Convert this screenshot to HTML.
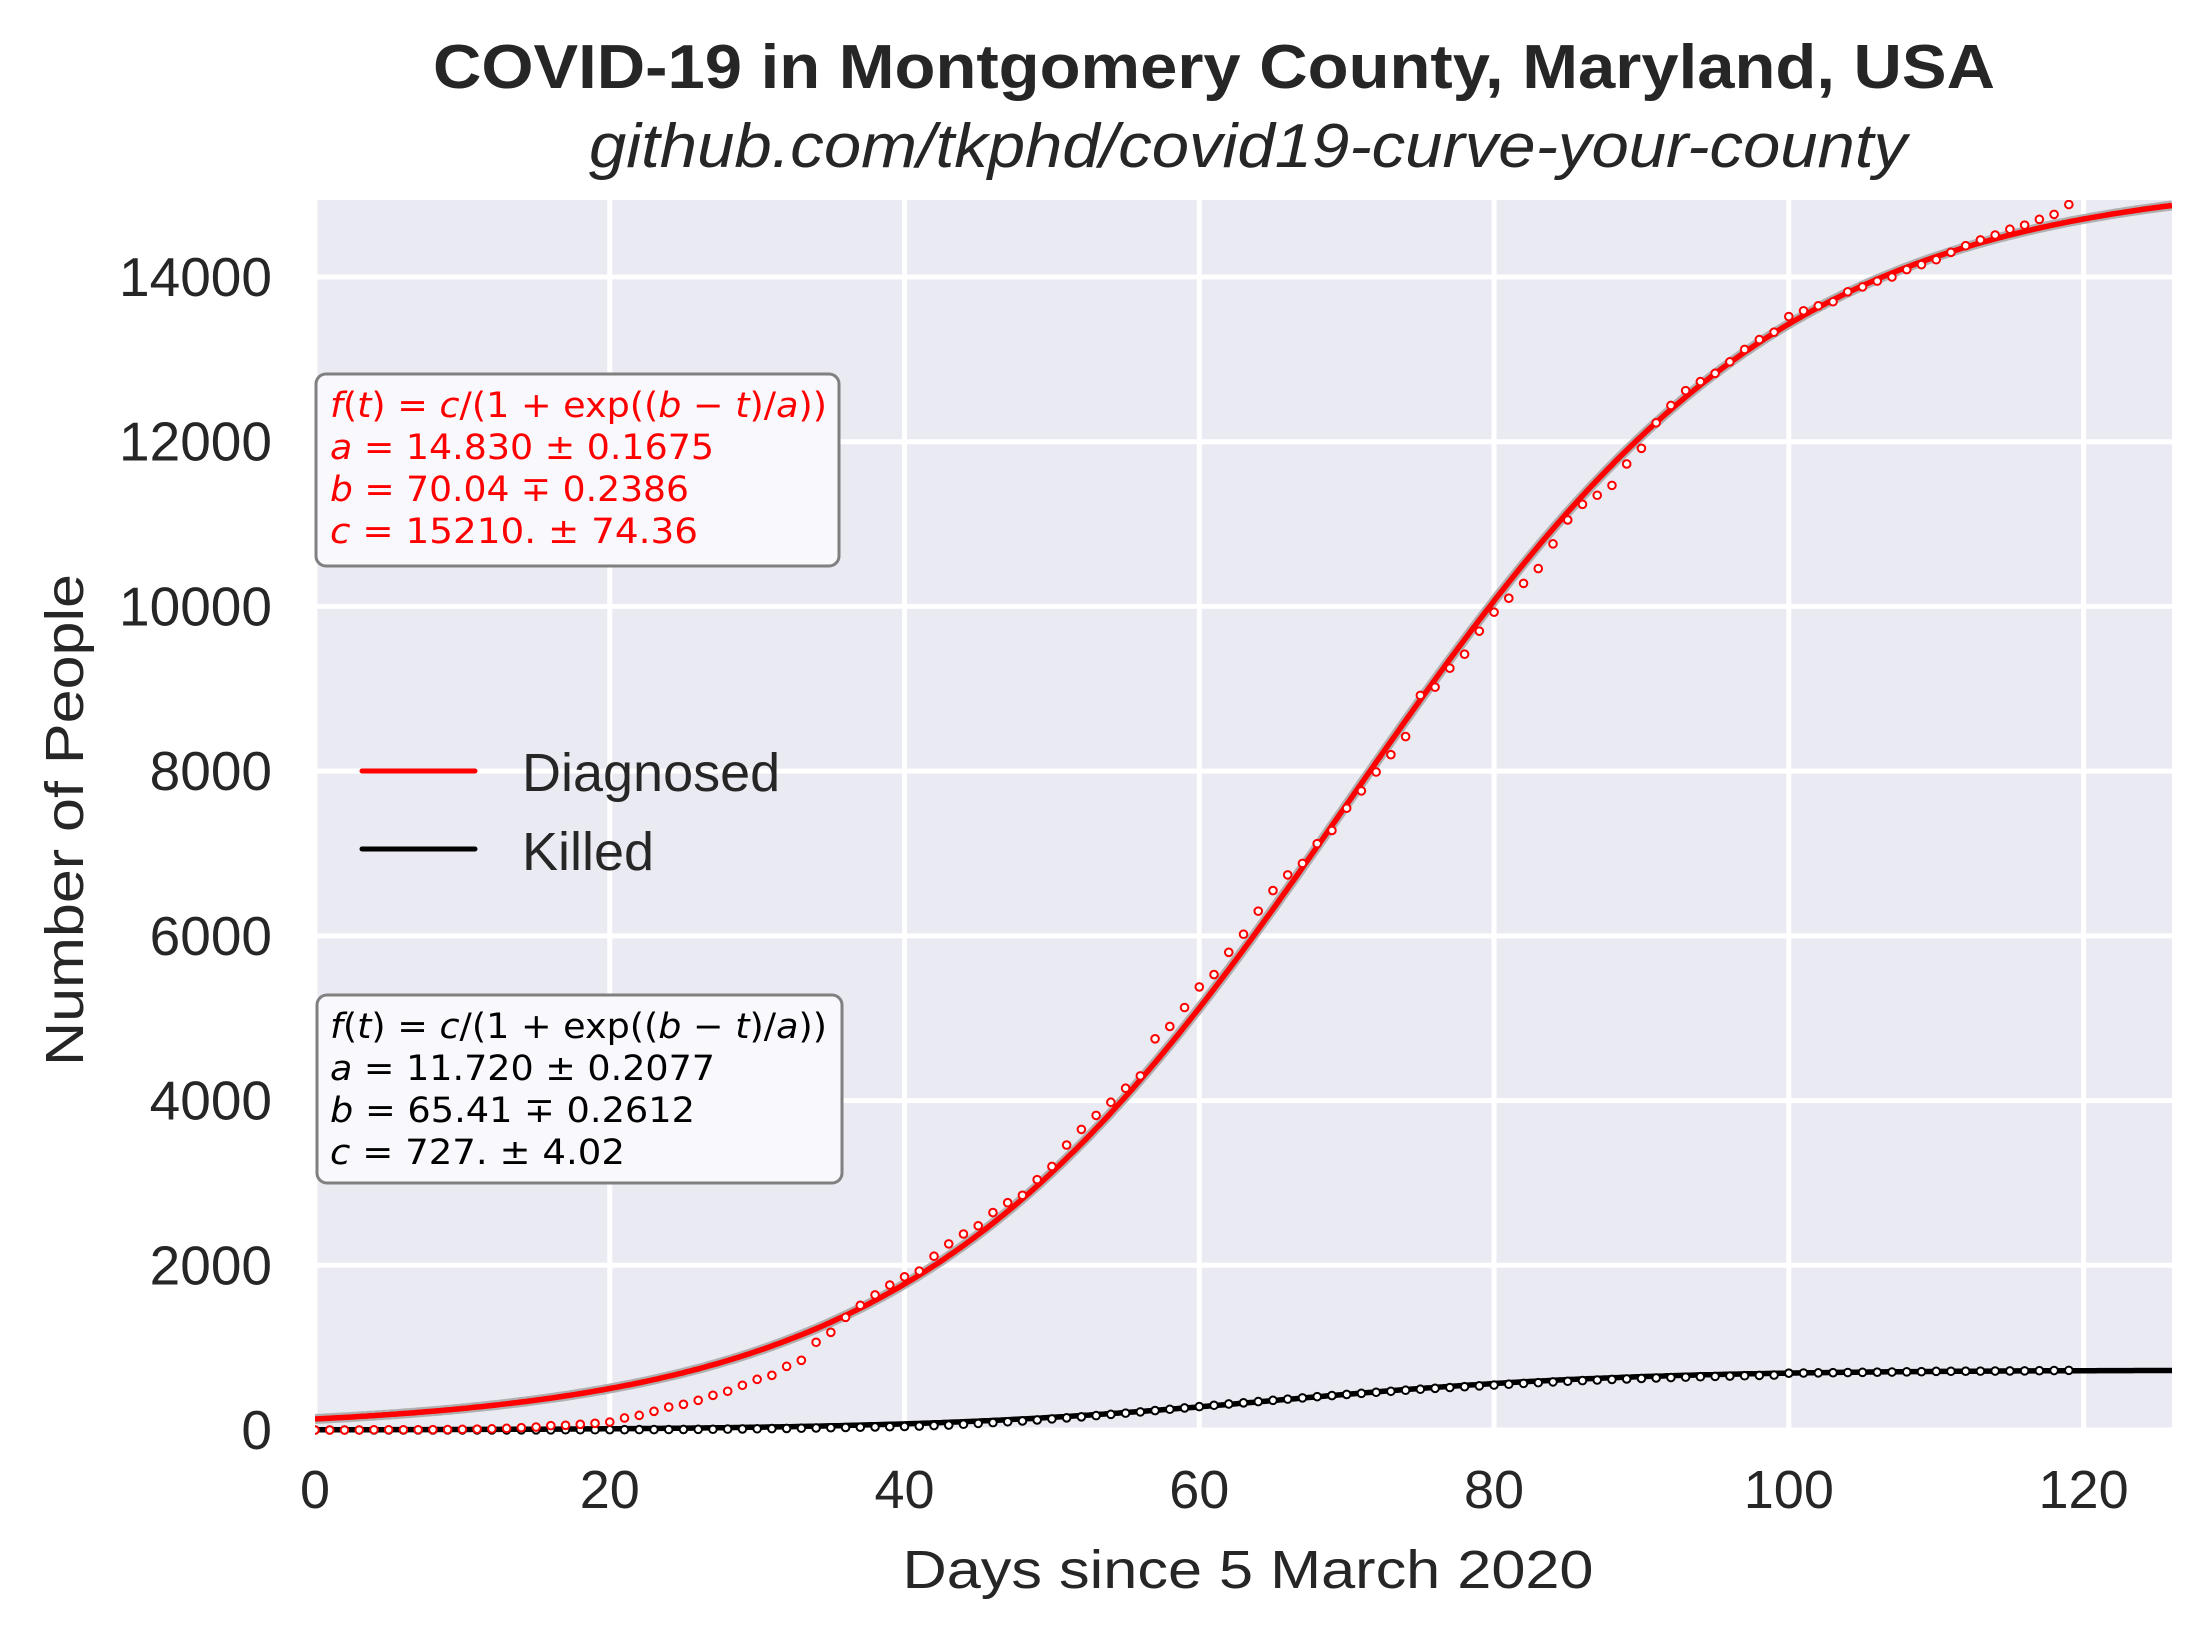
<!DOCTYPE html>
<html><head><meta charset="utf-8"><style>
html,body{margin:0;padding:0;background:#fff;}
svg{display:block;}
text{font-family:"Liberation Sans",sans-serif;fill:#262626;}
.m{font-family:"DejaVu Sans",sans-serif;font-size:35px;}
.i{font-style:italic;}
</style></head><body>
<svg id="chart" width="2212" height="1642" viewBox="0 0 2212 1642" xmlns="http://www.w3.org/2000/svg">
<rect x="315" y="200" width="1857" height="1231" fill="#eaeaf2"/>
<g id="grid"></g>
<g id="ticks"></g>
<g id="series"></g>

<text x="1214" y="88" text-anchor="middle" font-size="62" font-weight="bold" textLength="1562" lengthAdjust="spacingAndGlyphs">COVID-19 in Montgomery County, Maryland, USA</text>
<text x="1248" y="167" text-anchor="middle" font-size="62" font-style="italic" textLength="1318" lengthAdjust="spacingAndGlyphs">github.com/tkphd/covid19-curve-your-county</text>
<text transform="translate(83,820) rotate(-90)" text-anchor="middle" font-size="54" textLength="492" lengthAdjust="spacingAndGlyphs">Number of People</text>
<text x="1248" y="1588" text-anchor="middle" font-size="54" textLength="691" lengthAdjust="spacingAndGlyphs">Days since 5 March 2020</text>

<g>
<rect x="316" y="374" width="523" height="192" rx="10" fill="#f8f8fd" stroke="#808080" stroke-width="3"/>
<g fill="#ff0000" style="fill:#ff0000">
<text class="m" x="330" y="417" textLength="497" lengthAdjust="spacingAndGlyphs" style="fill:#f00"><tspan class="i">f</tspan>(<tspan class="i">t</tspan>) = <tspan class="i">c</tspan>/(1 + exp((<tspan class="i">b</tspan> − <tspan class="i">t</tspan>)/<tspan class="i">a</tspan>))</text>
<text class="m" x="330" y="459" textLength="384" lengthAdjust="spacingAndGlyphs" style="fill:#f00"><tspan class="i">a</tspan> = 14.830 ± 0.1675</text>
<text class="m" x="330" y="501" textLength="359" lengthAdjust="spacingAndGlyphs" style="fill:#f00"><tspan class="i">b</tspan> = 70.04 ∓ 0.2386</text>
<text class="m" x="330" y="543" textLength="368" lengthAdjust="spacingAndGlyphs" style="fill:#f00"><tspan class="i">c</tspan> = 15210.  ± 74.36</text>
</g></g>

<g>
<rect x="317" y="995" width="525" height="188" rx="10" fill="#f8f8fd" stroke="#808080" stroke-width="3"/>
<text class="m" x="330" y="1038" textLength="497" lengthAdjust="spacingAndGlyphs" style="fill:#000"><tspan class="i">f</tspan>(<tspan class="i">t</tspan>) = <tspan class="i">c</tspan>/(1 + exp((<tspan class="i">b</tspan> − <tspan class="i">t</tspan>)/<tspan class="i">a</tspan>))</text>
<text class="m" x="330" y="1080" textLength="385" lengthAdjust="spacingAndGlyphs" style="fill:#000"><tspan class="i">a</tspan> = 11.720 ± 0.2077</text>
<text class="m" x="330" y="1122" textLength="365" lengthAdjust="spacingAndGlyphs" style="fill:#000"><tspan class="i">b</tspan> = 65.41 ∓ 0.2612</text>
<text class="m" x="330" y="1164" textLength="295" lengthAdjust="spacingAndGlyphs" style="fill:#000"><tspan class="i">c</tspan> = 727.  ± 4.02</text>
</g>

<g>
<line x1="362" y1="771" x2="475" y2="771" stroke="#ff0000" stroke-width="5" stroke-linecap="round"/>
<text x="522" y="791" font-size="54">Diagnosed</text>
<line x1="362" y1="849" x2="475" y2="849" stroke="#000" stroke-width="5" stroke-linecap="round"/>
<text x="522" y="870" font-size="54">Killed</text>
</g>
</svg>
<script>
const xTicks = [0,20,40,60,80,100,120];
const yTicks = [0,2000,4000,6000,8000,10000,12000,14000];
const diagnosedFit = [14.830, 70.04, 15210]; // a, b, c
const killedFit = [11.720, 65.41, 727];
const diagnosed = [0,0,0,0,3,3,3,3,4,5,8,10,14,20,28,36,53,57,69,81,97,146,178,227,279,312,360,421,470,543,615,664,773,846,1065,1186,1368,1514,1640,1760,1860,1930,2110,2260,2380,2480,2640,2760,2850,3040,3200,3460,3650,3820,3980,4150,4300,4750,4900,5130,5380,5530,5800,6020,6300,6550,6740,6880,7120,7280,7550,7760,7990,8200,8420,8920,9020,9250,9420,9700,9930,10100,10280,10460,10760,11050,11240,11350,11470,11730,11920,12230,12440,12620,12730,12830,12970,13120,13240,13330,13520,13590,13650,13700,13820,13880,13950,14000,14090,14150,14210,14300,14380,14450,14510,14580,14630,14700,14760,14880];
const killed = [0,0,0,0,0,0,0,0,0,0,1,1,1,1,2,2,2,3,3,3,4,4,5,5,6,7,8,9,11,13,15,17,19,22,25,28,31,34,37,40,43,48,54,60,70,80,90,100,110,122,135,148,160,175,190,205,220,236,252,268,284,300,316,330,345,360,375,390,405,418,432,445,458,470,483,495,506,516,526,536,546,556,566,575,584,592,600,607,614,620,626,632,637,642,647,651,655,659,663,667,690,692,694,696,698,700,702,704,706,708,712,713,714,715,716,717,718,720,722,724];
const xDomain = [0,126];
const yDomain = [0,14935];

const NS = "http://www.w3.org/2000/svg";
const L=315,R=2172,T=200,B=1430;
function X(v){return L+(v-xDomain[0])/(xDomain[1]-xDomain[0])*(R-L);}
function Y(v){return B-(v-yDomain[0])/(yDomain[1]-yDomain[0])*(B-T);}
function mk(tag,attrs,parent){const e=document.createElementNS(NS,tag);for(const k in attrs)e.setAttribute(k,attrs[k]);parent.appendChild(e);return e;}
const grid=document.getElementById('grid'), ticks=document.getElementById('ticks'), series=document.getElementById('series');

xTicks.forEach(t=>{
  const g=mk('line',{x1:X(t),x2:X(t),y1:T,y2:B+1,stroke:'#fff','stroke-width':5},grid);
  
  
  const tx=mk('text',{x:X(t),y:1508,'text-anchor':'middle','font-size':54},ticks);
  tx.textContent=t;
  
  
});
yTicks.forEach(t=>{
  const g=mk('line',{x1:L,x2:R,y1:Y(t),y2:Y(t),stroke:'#fff','stroke-width':5},grid);
  
  
  const tx=mk('text',{x:272,y:Y(t)+19,'text-anchor':'end','font-size':55},ticks);
  tx.textContent=t;
  
  
});

function logistic(p,t){return p[2]/(1+Math.exp((p[1]-t)/p[0]));}
function fitPath(p){let d='';for(let t=xDomain[0];t<=xDomain[1];t+=0.25){const y=Math.max(Y(logistic(p,t)),T-10);d+=(d?'L':'M')+X(t).toFixed(1)+','+y.toFixed(1);}return d;}

const clip=mk('clipPath',{id:'pc'},series);
mk('rect',{x:L,y:T,width:R-L,height:B-T+10},clip);
const sg=mk('g',{'clip-path':'url(#pc)'},series);

const band=mk('path',{d:fitPath(diagnosedFit),fill:'none',stroke:'#b0b0b0','stroke-width':10},sg);


const rf=mk('path',{d:fitPath(diagnosedFit),fill:'none',stroke:'#ff0000','stroke-width':5.5},sg);


const kf=mk('path',{d:fitPath(killedFit),fill:'none',stroke:'#000','stroke-width':5.5},sg);



killed.forEach((v,i)=>{
  const c=mk('circle',{cx:X(i),cy:Y(v),r:3.8,fill:'#fff',stroke:'#000','stroke-width':2},sg);
  
  
});
diagnosed.forEach((v,i)=>{
  const c=mk('circle',{cx:X(i),cy:Y(v),r:3.8,fill:'#fff',stroke:'#ff0000','stroke-width':2},sg);
  
  
});
</script>
</body></html>
